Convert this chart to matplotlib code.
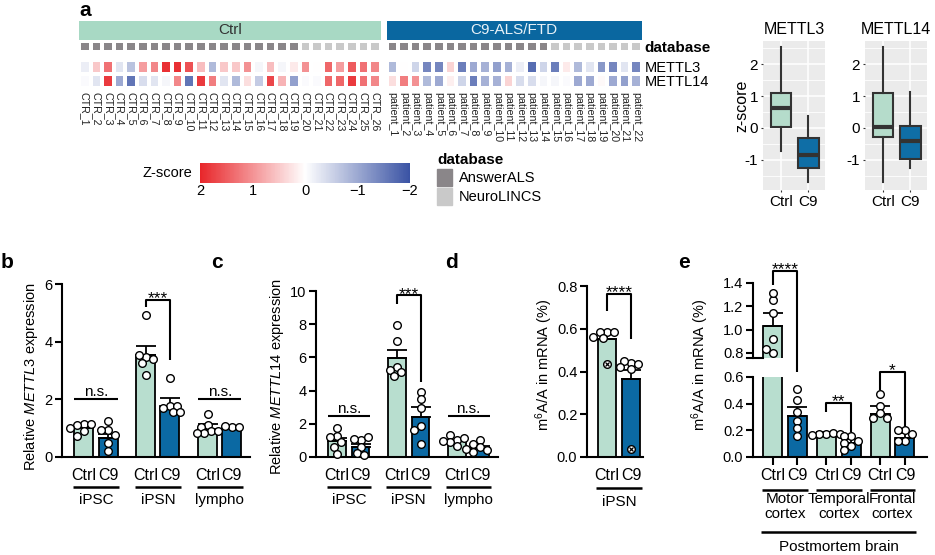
import numpy as np
import matplotlib.pyplot as plt
import matplotlib.transforms as mtrans
from matplotlib.colors import LinearSegmentedColormap, ListedColormap, Normalize
from matplotlib.cm import ScalarMappable
from matplotlib.lines import Line2D
from matplotlib.patches import Patch
from matplotlib.ticker import FormatStrFormatter

plt.rcParams.update({'font.family': ['Liberation Sans', 'DejaVu Sans'],
                     'mathtext.fontset': 'custom',
                     'mathtext.rm': 'Liberation Sans',
                     'mathtext.it': 'Liberation Sans:italic',
                     'axes.linewidth': 1.5})

# ---------------- data ----------------
ctrl_ids = ['CTR_%d' % i for i in range(1, 27)]
patient_ids = ['patient_%d' % i for i in range(1, 23)]
db_names = ['AnswerALS', 'NeuroLINCS']
ctrl_db = [0] * 19 + [1] * 7
patient_db = [0] * 14 + [1] * 8

mettl3_ctrl = [-0.2, 0.5, 1.3, -0.3, -0.7, 0.9, 1.1, 1.9, 1.9, 1.6, 0.6, -0.8, 0.5,
               0.5, 1.0, -0.1, 0.6, -0.1, 0.2, 1.0, 0.0, 1.4, 0.9, 1.5, 1.3, 1.1]
mettl14_ctrl = [-0.05, -0.3, 1.8, -1.0, -1.6, -0.4, -0.3, -0.1, 1.1, -1.6, 1.8, 1.2, -0.3,
                -0.8, 0.3, -0.6, 1.7, 0.7, -1.1, -0.05, -0.05, 1.4, 1.4, 1.8, 1.3, 1.1]
mettl3_pat = [-0.8, 0.0, -0.5, -1.4, -1.4, 0.4, -1.5, -1.0, -0.9, -1.1, -0.9,
              -0.2, -1.7, -0.5, -1.5, 0.2, -0.8, -0.3, -1.2, -1.4, -0.3, -1.4]
mettl14_pat = [0.3, 1.2, 1.0, -0.8, -1.0, 0.15, -0.5, -1.5, -0.9, -0.9, 0.4,
               -0.4, -0.4, -0.1, -0.1, -0.05, -1.0, -1.0, 0.05, -1.0, -1.1, -0.9]

box_titles = ['METTL3', 'METTL14']
box_labels = ['Ctrl', 'C9']
box_yticks = [-1, 0, 1, 2]
# whislo, q1, median, q3, whishi
mettl3_stats = [[-0.72, 0.03, 0.63, 1.10, 2.55], [-1.70, -1.27, -0.85, -0.32, 0.38]]
mettl14_stats = [[-1.70, -0.28, 0.03, 1.10, 2.54], [-1.27, -0.97, -0.42, 0.07, 1.13]]

bar_labels = ['Ctrl', 'C9']
cell_groups = ['iPSC', 'iPSN', 'lympho']
b_means = [1.0, 0.67, 3.55, 1.77, 0.99, 1.01]
b_sem = [0.08, 0.14, 0.32, 0.28, 0.17, 0.04]
b_points = [[1.15, 1.12, 1.16, 1.0, 0.9, 0.72], [1.26, 0.93, 0.95, 0.76, 0.47, 0.2],
            [4.94, 3.47, 3.55, 3.4, 3.26, 2.85], [2.76, 1.77, 1.69, 1.77, 1.57, 1.57],
            [1.48, 1.12, 1.05, 0.9, 0.82, 0.85], [1.05, 1.08, 1.05, 0.9]]
c_means = [0.94, 0.6, 5.94, 2.4, 0.94, 0.55]
c_sem = [0.22, 0.18, 0.5, 0.6, 0.1, 0.12]
c_points = [[1.74, 1.24, 1.2, 0.9, 0.6, 0.16], [1.04, 1.1, 1.2, 0.6, 0.24, 0.1],
            [7.96, 7.0, 5.45, 5.25, 5.1, 4.9], [3.9, 3.5, 2.96, 1.84, 1.6, 0.76],
            [1.05, 1.3, 1.15, 0.9, 0.65, 0.95], [1.05, 0.8, 0.6, 0.45, 0.3, 0.5]]
d_means = [0.551, 0.365]
d_sem = [0.027, 0.04]
d_points = [[0.585, 0.585, 0.585, 0.56, 0.555], [0.441, 0.45, 0.437, 0.41, 0.42]]
d_excluded = [0.437, 0.038]
brain_groups = ['Motor\ncortex', 'Temporal\ncortex', 'Frontal\ncortex']
e_means = [1.03, 0.31, 0.18, 0.105, 0.32, 0.143]
e_sem = [0.11, 0.065, 0.008, 0.03, 0.065, 0.037]
e_points = [[1.25, 1.31, 1.14, 0.92, 0.80, 0.83], [0.51, 0.43, 0.34, 0.27, 0.22, 0.155],
            [0.175, 0.175, 0.18, 0.165, 0.17], [0.155, 0.155, 0.12, 0.08, 0.105, 0.055],
            [0.47, 0.38, 0.33, 0.29, 0.29], [0.2, 0.205, 0.17, 0.12, 0.12]]

# ---------------- layout helpers ----------------
W, H = 935, 555
CTRL, C9 = '#B8DECF', '#0B69A3'
fig = plt.figure(figsize=(W / 100, H / 100), dpi=100)


def box(x0, y0, x1, y1):
    return [x0 / W, 1 - y1 / H, (x1 - x0) / W, (y1 - y0) / H]


def fx(px):
    return px / W


def fy(py):
    return 1 - py / H


def swarm(ax, x0, vals, d=7.0):
    tr = ax.transData
    done, xs = [], []
    for v in vals:
        cx, cy = tr.transform((x0, v))
        for k in [0, -1, 1, -2, 2, -3, 3, -4, 4]:
            tx = cx + k * d * 0.5
            if all((tx - px) ** 2 + (cy - py) ** 2 >= (d * 0.93) ** 2 for px, py in done):
                break
        done.append((tx, cy))
        xs.append(tr.inverted().transform((tx, cy))[0])
    return xs


def prism_axes(rect, xlim, ylim, yticks, ybound, fmt=None):
    ax = fig.add_axes(rect)
    ax.set_xlim(*xlim)
    ax.set_ylim(*ylim)
    ax.patch.set_alpha(0)
    for s in ['top', 'right']:
        ax.spines[s].set_visible(False)
    ax.spines['left'].set_bounds(*ybound)
    ax.set_yticks(yticks)
    if fmt:
        ax.yaxis.set_major_formatter(FormatStrFormatter(fmt))
    ax.tick_params(axis='y', direction='out', length=5, width=1.5, labelsize=10.5, pad=2)
    ax.tick_params(axis='x', length=0, labelsize=11.5, pad=8)
    return ax


def draw_bars(ax, pos, means, sems, points, width):
    lo, hi = ax.get_ylim()
    ax.bar(pos, means, width=width, color=[CTRL, C9] * (len(pos) // 2),
           edgecolor='black', linewidth=1.3, zorder=2)
    ax.errorbar(pos, means, yerr=[np.zeros(len(means)), sems], fmt='none', ecolor='black',
                elinewidth=1.3, capsize=7, capthick=1.3, zorder=3)
    for p, vals in zip(pos, points):
        vals = [v for v in vals if lo - 0.02 * (hi - lo) <= v <= hi]
        if not vals:
            continue
        xs = swarm(ax, p, vals)
        ax.plot(xs, vals, 'o', ms=5.5, mfc='white', mec='black', mew=1.0,
                zorder=4, clip_on=False)


def bracket(ax, x1, x2, top, b1, b2, label):
    ax.plot([x1, x1, x2, x2], [b1, top, top, b2], color='black', lw=1.5,
            clip_on=False, solid_capstyle='butt')
    if label == 'n.s.':
        ax.annotate(label, ((x1 + x2) / 2, top), xytext=(0, 2.5), textcoords='offset points',
                    ha='center', va='baseline', fontsize=11, annotation_clip=False)
    else:
        ax.annotate(label, ((x1 + x2) / 2, top), xytext=(0, -2.5), textcoords='offset points',
                    ha='center', va='baseline', fontsize=12.5, annotation_clip=False)


def group_labels(ax, pairs, names, y_line, y_text, ext=0.45, va='center'):
    tr = mtrans.blended_transform_factory(ax.transData, fig.transFigure)
    for (a, b), name in zip(pairs, names):
        ax.plot([a - ext, b + ext], [fy(y_line)] * 2, transform=tr, color='black',
                lw=1.8, clip_on=False, solid_capstyle='butt')
        ax.text((a + b) / 2, fy(y_text), name, transform=tr, ha='center', va=va,
                fontsize=11, linespacing=1.1)


# ---------------- panel a: heatmap ----------------
GAP = 0.5
n_c, n_p = len(ctrl_ids), len(patient_ids)
ctrl_edges = np.arange(n_c + 1)
pat_edges = n_c + GAP + np.arange(n_p + 1)
xmax = n_c + GAP + n_p
cmap_z = LinearSegmentedColormap.from_list('z', ['#3A53A4', '#FFFFFF', '#E8262A'])
cmap_db = ListedColormap(['#8A8689', '#C9C9C9'])

hd = fig.add_axes(box(79, 21, 642, 40))
hd.bar([0, n_c + GAP], 1, width=[n_c, n_p], align='edge', color=['#A8D9C4', '#0A67A0'])
hd.text(n_c / 2, 0.5, 'Ctrl', ha='center', va='center', fontsize=11, color='#333333')
hd.text(n_c + GAP + n_p / 2, 0.5, 'C9-ALS/FTD', ha='center', va='center', fontsize=11,
        color='#E8F2F8')
hd.set_xlim(0, xmax)
hd.set_ylim(0, 1)
hd.axis('off')

db = fig.add_axes(box(79, 41, 642, 52))
db.pcolormesh(ctrl_edges, [0, 1], [ctrl_db], cmap=cmap_db, vmin=0, vmax=1,
              edgecolors='white', linewidth=1.7)
db.pcolormesh(pat_edges, [0, 1], [patient_db], cmap=cmap_db, vmin=0, vmax=1,
              edgecolors='white', linewidth=1.7)
db.set_xlim(0, xmax)
db.set_ylim(0, 1)
db.set_xticks([])
db.yaxis.tick_right()
db.set_yticks([0.5], ['database'], fontsize=11, fontweight='bold')
db.tick_params(axis='y', length=0, pad=2)
for s in db.spines.values():
    s.set_visible(False)

hm = fig.add_axes(box(79, 60, 642, 88))
hm.pcolormesh(ctrl_edges, [0, 1, 2], [mettl3_ctrl, mettl14_ctrl], cmap=cmap_z,
              vmin=-2, vmax=2, edgecolors='white', linewidth=1.7)
hm.pcolormesh(pat_edges, [0, 1, 2], [mettl3_pat, mettl14_pat], cmap=cmap_z,
              vmin=-2, vmax=2, edgecolors='white', linewidth=1.7)
hm.set_xlim(0, xmax)
hm.set_ylim(2, 0)
centers = list(ctrl_edges[:-1] + 0.5) + list(pat_edges[:-1] + 0.5)
hm.set_xticks(centers, ctrl_ids + patient_ids, rotation=270, fontsize=7.7, color='#222222')
hm.yaxis.tick_right()
hm.set_yticks([0.5, 1.5], ['METTL3', 'METTL14'], fontsize=10.5)
hm.tick_params(length=0, pad=2)
hm.tick_params(axis='x', pad=3)
for s in hm.spines.values():
    s.set_visible(False)

# colour key
cax = fig.add_axes(box(200, 163, 410, 183))
cb = fig.colorbar(ScalarMappable(Normalize(-2, 2), cmap_z), cax=cax, orientation='horizontal')
cax.invert_xaxis()
cb.set_ticks([2, 1, 0, -1, -2])
cb.outline.set_visible(False)
cax.tick_params(length=0, labelsize=10.5, pad=1)
fig.text(fx(192), fy(173), 'Z-score', ha='right', va='center', fontsize=10.5)

leg = fig.legend(handles=[Patch(color=cmap_db(i), label=n) for i, n in enumerate(db_names)],
                 title='database', loc='upper left', bbox_to_anchor=(fx(437), fy(153)),
                 frameon=False, fontsize=10.5, handlelength=1.0, handleheight=1.4,
                 handletextpad=0.5, labelspacing=0.15, borderaxespad=0, borderpad=0,
                 alignment='left', title_fontproperties={'weight': 'bold', 'size': 11})

# box plots
for title, st, x0 in zip(box_titles, [mettl3_stats, mettl14_stats], [763, 865]):
    ax = fig.add_axes(box(x0, 41, x0 + 62, 190))
    ax.set_facecolor('#EBEBEB')
    stats = [dict(whislo=s[0], q1=s[1], med=s[2], q3=s[3], whishi=s[4], label=lab)
             for s, lab in zip(st, box_labels)]
    bp = ax.bxp(stats, positions=[1, 2], widths=0.75, patch_artist=True, showcaps=False,
                showfliers=False,
                boxprops=dict(edgecolor='#333333', linewidth=1.5),
                whiskerprops=dict(color='#333333', linewidth=1.5),
                medianprops=dict(color='#333333', linewidth=3))
    for patch, c in zip(bp['boxes'], ['#B5DCCB', '#0F6EA6']):
        patch.set_facecolor(c)
    ax.set_xlim(0.35, 2.6)
    ax.set_ylim(-1.95, 2.73)
    ax.set_yticks(box_yticks, ['%d' % t for t in box_yticks])
    ax.set_yticks([-1.5, -0.5, 0.5, 1.5, 2.5], minor=True)
    ax.grid(which='major', color='white', lw=1.1)
    ax.grid(which='minor', axis='y', color='white', lw=0.6)
    ax.set_axisbelow(True)
    ax.tick_params(which='minor', length=0)
    ax.tick_params(which='major', length=1.5, color='#333333', labelsize=11, pad=2)
    for s in ax.spines.values():
        s.set_visible(False)
    ax.set_title(title, fontsize=11.5, pad=5)
fig.text(fx(742), fy(106), 'z-score', rotation=90, ha='center', va='center', fontsize=11.5)

# ---------------- panels b, c ----------------
pos3 = [g * 2.55 + k for g in range(3) for k in range(2)]
pairs3 = [(pos3[2 * g], pos3[2 * g + 1]) for g in range(3)]

ax_b = prism_axes(box(62, 270, 250, 457), (-0.9, 6.85), (0, 6.5), [0, 2, 4, 6], (0, 6))
draw_bars(ax_b, pos3, b_means, b_sem, b_points, 0.78)
ax_b.set_xticks(pos3, bar_labels * 3)
bracket(ax_b, pos3[0] - 0.39, pos3[1] + 0.39, 2.0, 2.0, 2.0, 'n.s.')
bracket(ax_b, pos3[2], pos3[3], 5.46, 5.2, 3.37, '***')
bracket(ax_b, pos3[4] - 0.39, pos3[5] + 0.39, 2.0, 2.0, 2.0, 'n.s.')
group_labels(ax_b, pairs3, cell_groups, 487, 500)
fig.text(fx(31), fy(377), r'Relative $\mathit{METTL3}$ expression', rotation=90,
         ha='center', va='center', fontsize=10.5)

ax_c = prism_axes(box(316, 270, 498, 457), (-0.9, 6.85), (0, 11.27), [0, 2, 4, 6, 8, 10], (0, 10))
draw_bars(ax_c, pos3, c_means, c_sem, c_points, 0.74)
ax_c.set_xticks(pos3, bar_labels * 3)
bracket(ax_c, pos3[0] - 0.39, pos3[1] + 0.39, 2.46, 2.46, 2.46, 'n.s.')
bracket(ax_c, pos3[2], pos3[3], 9.75, 9.2, 4.5, '***')
bracket(ax_c, pos3[4] - 0.39, pos3[5] + 0.39, 2.46, 2.46, 2.46, 'n.s.')
group_labels(ax_c, pairs3, cell_groups, 487, 500)
fig.text(fx(277), fy(377), r'Relative $\mathit{METTL14}$ expression', rotation=90,
         ha='center', va='center', fontsize=10.5)

# ---------------- panel d ----------------
pos2 = [0, 1]
ax_d = prism_axes(box(587, 270, 643, 457), (-0.83, 1.5), (0, 0.875),
                  [0, 0.2, 0.4, 0.6, 0.8], (0, 0.8), '%.1f')
draw_bars(ax_d, pos2, d_means, d_sem, d_points, 0.75)
ax_d.plot(pos2, d_excluded, 'o', ms=5.5, mfc='white', mec='black', mew=1.0, zorder=4)
ax_d.plot(pos2, d_excluded, 'x', ms=3.2, mec='black', mew=0.9, zorder=5)
ax_d.set_xticks(pos2, bar_labels)
bracket(ax_d, pos2[0], pos2[1], 0.762, 0.684, 0.55, '****')
group_labels(ax_d, [(0, 1)], ['iPSN'], 488, 502)
fig.text(fx(544), fy(365), r'm$^{\mathregular{6}}$A/A in mRNA (%)', rotation=90,
         ha='center', va='center', fontsize=10.5)

# ---------------- panel e (broken axis) ----------------
pos_e = [g * 2.17 + k for g in range(3) for k in range(2)]
pairs_e = [(pos_e[2 * g], pos_e[2 * g + 1]) for g in range(3)]
ax_el = prism_axes(box(753, 377, 927, 457), (-0.79, 6.23), (0, 0.6),
                   [0, 0.2, 0.4, 0.6], (0, 0.6), '%.1f')
ax_eu = prism_axes(box(753, 283, 927, 358), (-0.79, 6.23), (0.756, 1.4),
                   [0.8, 1.0, 1.2, 1.4], (0.756, 1.4), '%.1f')
ax_eu.spines['bottom'].set_visible(False)
ax_eu.set_xticks([])
for ax in (ax_el, ax_eu):
    draw_bars(ax, pos_e, e_means, e_sem, e_points, 0.77)
ax_el.set_xticks(pos_e, bar_labels * 3)
ax_el.tick_params(axis='x', length=6, width=1.5, direction='out', pad=2)
fig.add_artist(Line2D([fx(747), fx(763)], [fy(358)] * 2, color='black', lw=1.5))
bracket(ax_eu, pos_e[0], pos_e[1], 1.506, 1.38, 0.64, '****')
bracket(ax_el, pos_e[2], pos_e[3], 0.405, 0.34, 0.19, '**')
bracket(ax_el, pos_e[4], pos_e[5], 0.64, 0.5, 0.22, '*')
group_labels(ax_el, pairs_e, brain_groups, 490, 492, ext=0.42, va='top')
group_labels(ax_el, [(pos_e[0], pos_e[-1])], ['Postmortem brain'], 532, 547, ext=0.45)
fig.text(fx(700), fy(365), r'm$^{\mathregular{6}}$A/A in mRNA (%)', rotation=90,
         ha='center', va='center', fontsize=10.5)

# panel letters
for letter, (px, py) in zip('abcde', [(85, 10), (7, 262), (217, 262), (452, 262), (684, 262)]):
    fig.text(fx(px), fy(py), letter, ha='center', va='center', fontsize=15, fontweight='bold')

fig.savefig('out.png', dpi=100)
